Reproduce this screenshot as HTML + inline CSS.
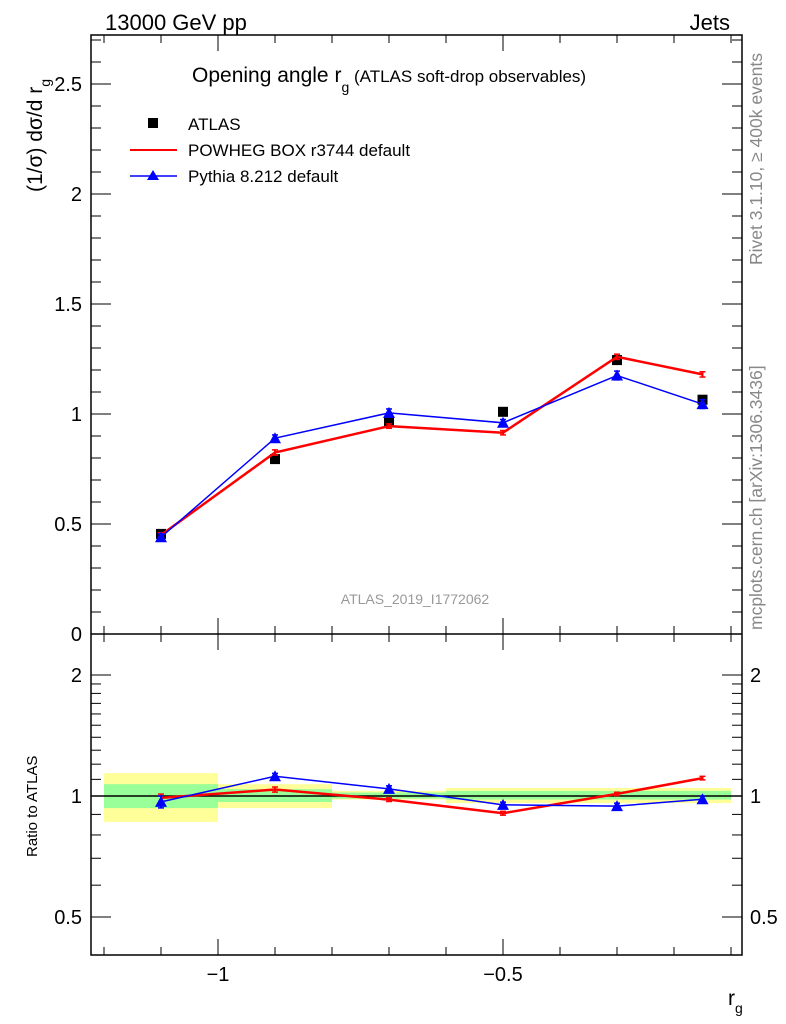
<!DOCTYPE html>
<html><head><meta charset="utf-8"><style>
body{margin:0;background:#fff}
svg{display:block;font-family:"Liberation Sans",sans-serif}
</style></head><body>
<svg id="c" width="786" height="1024" viewBox="0 0 786 1024">
<g id="bands"></g>
<g id="axes"></g>
<g id="marks"></g>
<text x="105" y="30" font-size="22">13000 GeV pp</text>
<text x="730" y="30" font-size="22" text-anchor="end">Jets</text>
<text x="192" y="82" font-size="21">Opening angle r<tspan font-size="14" dy="10">g</tspan><tspan dy="-10" font-size="17"> (ATLAS soft-drop observables)</tspan></text>
<g>
<rect x="148" y="118" width="10" height="10" fill="#000"/>
<text x="188" y="130" font-size="17">ATLAS</text>
<line x1="130" y1="150" x2="177" y2="150" stroke="red" stroke-width="2"/>
<text x="188" y="156" font-size="17">POWHEG BOX r3744 default</text>
<line x1="130" y1="176" x2="177" y2="176" stroke="blue" stroke-width="1.5"/>
<polygon points="153,170 147,180 159,180" fill="blue"/>
<text x="188" y="182" font-size="17">Pythia 8.212 default</text>
</g>
<text x="415" y="604" font-size="14" fill="#999" text-anchor="middle">ATLAS_2019_I1772062</text>
<text transform="translate(762,265) rotate(-90)" font-size="17.5" fill="#888">Rivet 3.1.10, ≥ 400k events</text>
<text transform="translate(762,630) rotate(-90)" font-size="17.5" fill="#888">mcplots.cern.ch [arXiv:1306.3436]</text>
<text transform="translate(42,192) rotate(-90)" font-size="21">(1/σ) dσ/d r<tspan font-size="14" dy="8">g</tspan></text>
<text transform="translate(37,857) rotate(-90)" font-size="15">Ratio to ATLAS</text>
<text x="728" y="1005" font-size="21">r<tspan font-size="14" dy="8">g</tspan></text>
</svg>
<script>
const binLo=[-1.2,-1.0,-0.8,-0.6,-0.4,-0.2];
const binHi=[-1.0,-0.8,-0.6,-0.4,-0.2,-0.1];
const atlas=[0.455,0.795,0.965,1.01,1.245,1.065];
const atlasErr=[0.01,0.01,0.01,0.01,0.01,0.01];
const powheg=[0.45,0.825,0.945,0.915,1.26,1.18];
const powhegErr=[0.01,0.012,0.01,0.01,0.012,0.012];
const pythia=[0.44,0.89,1.005,0.96,1.175,1.045];
const pythiaErr=[0.015,0.015,0.018,0.015,0.02,0.02];
const bandYellowHi=[1.14,1.07,1.03,1.047,1.047,1.047];
const bandYellowLo=[0.862,0.933,0.98,0.96,0.96,0.96];
const bandGreenHi=[1.07,1.04,1.02,1.03,1.03,1.03];
const bandGreenLo=[0.933,0.966,0.985,0.98,0.98,0.98];
const mainTicks=[0,0.5,1,1.5,2,2.5];
const mainTickLabels=["0","0.5","1","1.5","2","2.5"];
const ratioTicks=[0.5,1,2];
const ratioTickLabels=["0.5","1","2"];
const xTicks=[-1,-0.5];
const xTickLabels=["−1","−0.5"];

const NS="http://www.w3.org/2000/svg";
const L=91,R=742,T=35,M=634,B=955;
const X=v=>218+(v+1)*570;
const Y=v=>634-v*220;
const YR=v=>796-Math.log2(v)*121;
function mk(p,tag,at){const e=document.createElementNS(NS,tag);for(const k in at)e.setAttribute(k,at[k]);p.appendChild(e);return e;}
const ax=document.getElementById('axes'),bd=document.getElementById('bands'),mg=document.getElementById('marks');

for(let i=0;i<binLo.length;i++){
  const y=mk(bd,'rect',{x:X(binLo[i]),y:YR(bandYellowHi[i]),width:X(binHi[i])-X(binLo[i]),height:YR(bandYellowLo[i])-YR(bandYellowHi[i]),fill:'#ffff99'});
  
  
  const g=mk(bd,'rect',{x:X(binLo[i]),y:YR(bandGreenHi[i]),width:X(binHi[i])-X(binLo[i]),height:YR(bandGreenLo[i])-YR(bandGreenHi[i]),fill:'#99ff99'});
  
  
}
mk(ax,'rect',{x:L,y:T,width:R-L,height:B-T,fill:'none',stroke:'#000','stroke-width':1.5});
mk(ax,'line',{x1:L,y1:M,x2:R,y2:M,stroke:'#000','stroke-width':1.5});
mk(ax,'line',{x1:L,y1:YR(1),x2:R,y2:YR(1),stroke:'#000','stroke-width':1.5});
for(let k=-12;k<=-1;k++){const v=k/10,x=X(v),maj=(k==-10||k==-5);const h=maj?16:8;
  [T,M].forEach(y0=>mk(ax,'line',{x1:x,y1:y0,x2:x,y2:y0+h,stroke:'#000'}));
  [M,B].forEach(y0=>mk(ax,'line',{x1:x,y1:y0,x2:x,y2:y0-h,stroke:'#000'}));}
xTicks.forEach((v,i)=>{const t=mk(ax,'text',{x:X(v),y:981,'font-size':20,'text-anchor':'middle'});t.textContent=xTickLabels[i];
  
  });
for(let k=0;k<=27;k++){const v=k/10,y=Y(v);if(y<T)continue;const maj=k%5==0,h=maj?20:10;
  mk(ax,'line',{x1:L,y1:y,x2:L+h,y2:y,stroke:'#000'});mk(ax,'line',{x1:R,y1:y,x2:R-h,y2:y,stroke:'#000'});}
mainTicks.forEach((v,i)=>{const t=mk(ax,'text',{x:82,y:Y(v)+7,'font-size':20,'text-anchor':'end'});t.textContent=mainTickLabels[i];
  
  });
[0.5,0.6,0.7,0.8,0.9,1,2].forEach(v=>{const y=YR(v),h=(v==0.5||v==1||v==2)?20:10;
  mk(ax,'line',{x1:L,y1:y,x2:L+h,y2:y,stroke:'#000'});mk(ax,'line',{x1:R,y1:y,x2:R-h,y2:y,stroke:'#000'});});
[1.1,1.2,1.3,1.4,1.5,1.6,1.7,1.8,1.9].forEach(v=>{const y=YR(v);mk(ax,'line',{x1:L,y1:y,x2:L+10,y2:y,stroke:'#000'});mk(ax,'line',{x1:R,y1:y,x2:R-10,y2:y,stroke:'#000'});});
ratioTicks.forEach((v,i)=>{[[82,'end'],[750,'start']].forEach(([x,a])=>{const t=mk(ax,'text',{x:x,y:YR(v)+7,'font-size':20,'text-anchor':a});t.textContent=ratioTickLabels[i];
  
  });});

const cx=binLo.map((v,i)=>(v+binHi[i])/2);
function series(vals,errs,col,w,name,yf,tri){
  const pts=vals.map((v,i)=>X(cx[i])+','+yf(v)).join(' ');
  const pl=mk(mg,'polyline',{points:pts,fill:'none',stroke:col,'stroke-width':w});
  
  
  vals.forEach((v,i)=>{const x=X(cx[i]);
    mk(mg,'line',{x1:x,y1:yf(v+errs[i]),x2:x,y2:yf(v-errs[i]),stroke:col,'stroke-width':2});
    mk(mg,'line',{x1:x-3,y1:yf(v+errs[i]),x2:x+3,y2:yf(v+errs[i]),stroke:col,'stroke-width':1.5});
    mk(mg,'line',{x1:x-3,y1:yf(v-errs[i]),x2:x+3,y2:yf(v-errs[i]),stroke:col,'stroke-width':1.5});
    if(tri){const y=yf(v);const p=mk(mg,'polygon',{points:`${x},${y-6} ${x-6},${y+5} ${x+6},${y+5}`,fill:col});
      
      }
  });
}
atlas.forEach((v,i)=>{const r=mk(mg,'rect',{x:X(cx[i])-5,y:Y(v)-5,width:10,height:10,fill:'#000'});
  
  });
series(powheg,powhegErr,'red',2.5,'powheg',Y,false);
series(pythia,pythiaErr,'blue',1.5,'pythia',Y,true);
series(powheg.map((v,i)=>v/atlas[i]),powhegErr.map((e,i)=>e/atlas[i]),'red',2.5,'powheg-ratio',YR,false);
series(pythia.map((v,i)=>v/atlas[i]),pythiaErr.map((e,i)=>e/atlas[i]),'blue',1.5,'pythia-ratio',YR,true);
</script>
</body></html>
